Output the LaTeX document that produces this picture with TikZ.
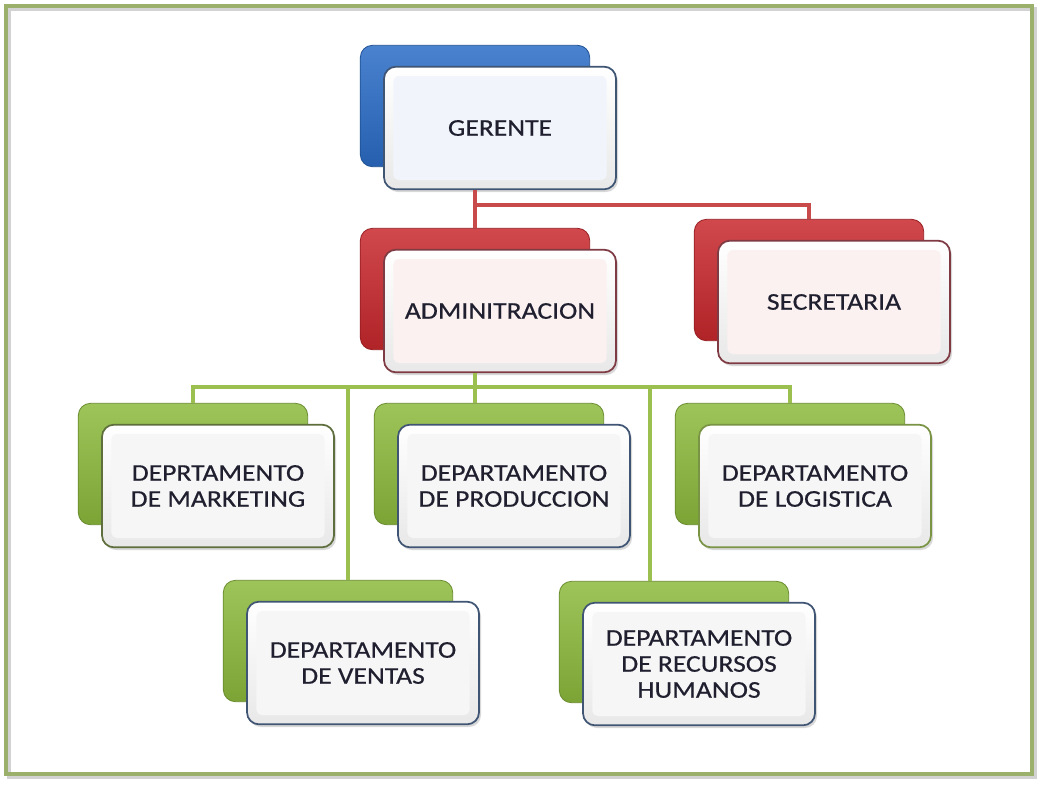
\documentclass[tikz,border=0pt]{standalone}
\usepackage{fontspec}
\setmainfont{Carlito}[FakeStretch=1.15, FakeBold=0.5]
\usetikzlibrary{shadows}

\definecolor{azulg}{HTML}{2A6CC6}
\definecolor{rojog}{HTML}{C8282D}
\definecolor{verdeg}{HTML}{8CBA3C}
\definecolor{bordeazul}{HTML}{3F5573}
\definecolor{borderojo}{HTML}{7F3B44}
\definecolor{bordeverde}{HTML}{5E6E3C}
\definecolor{bordeclaro}{HTML}{7A9446}
\definecolor{caraazul}{HTML}{F1F5FB}
\definecolor{cararoja}{HTML}{FCF1F1}
\definecolor{caragris}{HTML}{F6F6F6}
\definecolor{linearoja}{HTML}{C94A4A}
\definecolor{lineaverde}{HTML}{9BC04F}
\definecolor{marco}{HTML}{9BB06A}
\definecolor{texto}{HTML}{1F1F2F}

\tikzset{
  backbox/.style={rounded corners=9pt, minimum width=172pt, minimum height=91pt,
    draw=#1!75!black, line width=0.6pt,
    top color=#1!85!white, middle color=#1, bottom color=#1!88!black},
  frontbox/.style 2 args={rounded corners=9pt, minimum width=174pt, minimum height=92pt,
    draw=#1, line width=1.3pt, top color=white, bottom color=gray!18,
    align=center, text=texto, font=\fontsize{18}{19.5}\selectfont,
    drop shadow={opacity=0.3, shadow xshift=1.5pt, shadow yshift=-2pt},
    path picture={\fill[#2, rounded corners=4pt]
      ([shift={(7pt,-7pt)}]path picture bounding box.north west) rectangle
      ([shift={(-7pt,7pt)}]path picture bounding box.south east);}},
  linkr/.style={draw=linearoja, line width=3pt},
  linkg/.style={draw=lineaverde, line width=3pt}
}

\begin{document}
\begin{tikzpicture}[x=0.75pt, y=-0.75pt]
  \useasboundingbox[fill=white] (0,0) rectangle (1044,786);

  % Frame
  \draw[gray!35, line width=2.5pt] (9,9) rectangle (1035,777);
  \draw[marco, line width=2.5pt] (6,6) rectangle (1032,774);

  % Gerente
  \node[backbox=azulg] (gerb) at (475,106) {};
  \node[frontbox={bordeazul}{caraazul}] (ger) at (500,128) {GERENTE};

  % Administracion and Secretaria
  \node[backbox=rojog] (admb) at (475,289) {};
  \node[frontbox={borderojo}{cararoja}] (adm) at (500,311) {ADMINITRACION};
  \node[backbox=rojog] (secb) at (809,280) {};
  \node[frontbox={borderojo}{cararoja}] (sec) at (834,302) {SECRETARIA};

  % Departamentos, first row
  \node[backbox=verdeg] (mktb) at (193,464) {};
  \node[frontbox={bordeverde}{caragris}] (mkt) at (218,486) {DEPRTAMENTO\\DE MARKETING};
  \node[backbox=verdeg] (prob) at (489,464) {};
  \node[frontbox={bordeazul}{caragris}] (pro) at (514,486) {DEPARTAMENTO\\DE PRODUCCION};
  \node[backbox=verdeg] (logb) at (790,464) {};
  \node[frontbox={bordeclaro}{caragris}] (log) at (815,486) {DEPARTAMENTO\\DE LOGISTICA};

  % Departamentos, second row
  \node[backbox=verdeg] (venb) at (338,641) {};
  \node[frontbox={bordeazul}{caragris}] (ven) at (363,663) {DEPARTAMENTO\\DE VENTAS};
  \node[backbox=verdeg] (rrhb) at (674,642) {};
  \node[frontbox={bordeazul}{caragris}] (rrh) at (699,664) {DEPARTAMENTO\\DE RECURSOS\\HUMANOS};

  % Red connectors
  \draw[linkr] (ger.south -| gerb.south) -- (admb.north);
  \draw[linkr] (ger.south -| gerb.south) ++(0,15) -| (secb.north);

  % Green connectors
  \coordinate (busg) at (0,387);
  \draw[linkg] (adm.south -| admb.south) -- (admb.south |- prob.north);
  \draw[linkg] (mktb.north) |- (busg -| logb.north) -- (logb.north);
  \draw[linkg] ([xshift=7.5pt]venb.north) -- ([xshift=7.5pt]venb.north |- busg);
  \draw[linkg] ([xshift=-18pt]rrhb.north) -- ([xshift=-18pt]rrhb.north |- busg);
\end{tikzpicture}
\end{document}
